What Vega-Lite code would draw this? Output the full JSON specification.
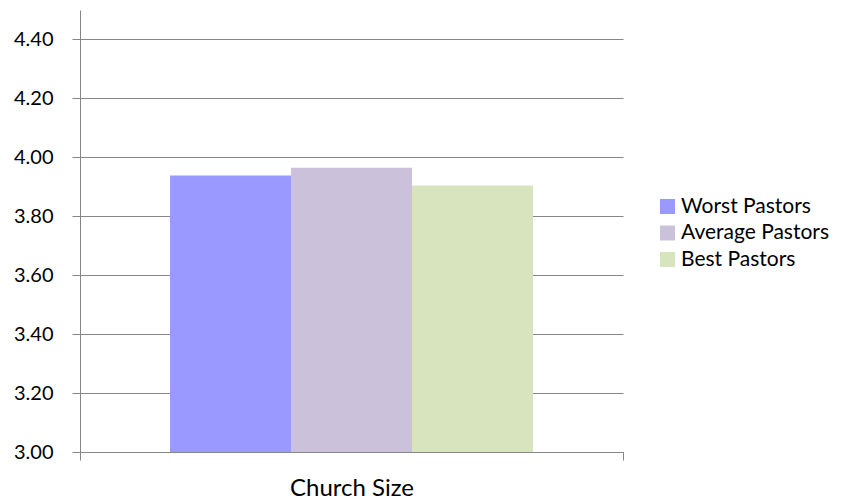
{
  "$schema": "https://vega.github.io/schema/vega-lite/v6.json",
  "autosize": "none",
  "width": 543,
  "height": 442,
  "padding": {"left": 80, "top": 10, "right": 224, "bottom": 48},
  "background": "white",
  "config": {"view": {"stroke": null}, "font": "Lato"},
  "data": {"values": [
    {"category": "Church Size", "group": "Worst Pastors", "value": 3.938},
    {"category": "Church Size", "group": "Average Pastors", "value": 3.965},
    {"category": "Church Size", "group": "Best Pastors", "value": 3.904}
  ]},
  "mark": {"type": "bar", "clip": true},
  "encoding": {
    "x": {
      "field": "category", "type": "nominal",
      "scale": {"paddingInner": 0, "paddingOuter": 0},
      "axis": {"labels": false, "ticks": true, "tickBand": "extent", "tickColor": "#868686", "tickSize": 8, "domain": true, "domainColor": "#868686", "domainWidth": 1, "title": "Church Size", "titleFont": "Lato", "titleFontSize": 24, "titleFontWeight": "normal", "titleColor": "#000000", "titlePadding": 16}
    },
    "xOffset": {"field": "group", "type": "nominal", "sort": ["Worst Pastors", "Average Pastors", "Best Pastors"], "scale": {"paddingInner": 0, "paddingOuter": 0.744}},
    "y": {
      "field": "value", "type": "quantitative",
      "scale": {"domain": [3, 4.5], "nice": false, "zero": false},
      "axis": {"values": [3, 3.2, 3.4, 3.6, 3.8, 4.0, 4.2, 4.4], "format": ".2f", "title": null, "grid": true, "gridColor": "#868686", "gridWidth": 1, "domainColor": "#868686", "tickColor": "#868686", "tickSize": 8, "labelPadding": 19, "labelFont": "Lato", "labelFontSize": 20, "labelColor": "#000000"}
    },
    "color": {
      "field": "group", "type": "nominal",
      "scale": {"domain": ["Worst Pastors", "Average Pastors", "Best Pastors"], "range": ["#9999FF", "#CCC1DA", "#D7E4BD"]},
      "legend": {"title": null, "orient": "none", "legendX": 577, "legendY": 186, "symbolType": "square", "symbolSize": 225, "symbolStrokeWidth": 0, "labelFont": "Lato", "labelFontSize": 21, "labelColor": "#000000", "labelOffset": 3, "rowPadding": 4.5}
    }
  }
}
